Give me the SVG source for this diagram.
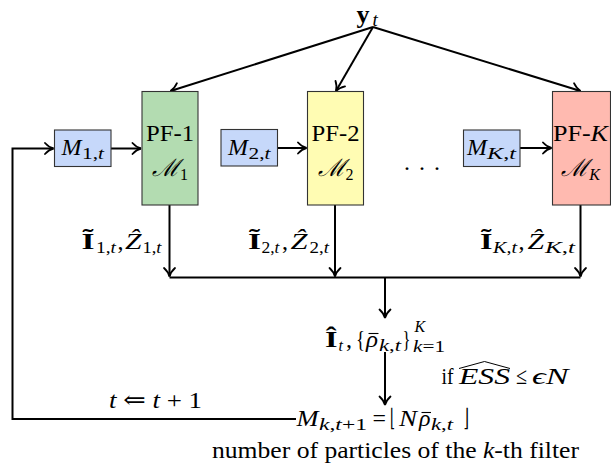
<svg xmlns="http://www.w3.org/2000/svg" width="611" height="467" viewBox="0 0 611 467">
<style>
.t{font-family:"Liberation Serif","DejaVu Serif",serif;font-size:24px;fill:#000}
.i{font-style:italic}
.b{font-weight:bold}
.s{font-size:16px}
.box{stroke:#333;stroke-width:1.1}
.c{stroke:#000;stroke-width:2;fill:none}
.bar{stroke:#000;stroke-width:1.1;fill:none}
</style>
<defs>
<marker id="ah" markerUnits="userSpaceOnUse" viewBox="-10 -7 12 14" refX="0" refY="0" markerWidth="12" markerHeight="14" orient="auto">
<path d="M-8.5,-5.5 C-5.5,-2.2 -2.5,-0.6 0,0 C-2.5,0.6 -5.5,2.2 -8.5,5.5" fill="none" stroke="#000" stroke-width="1.8" stroke-linecap="round"/>
</marker>
</defs>
<rect width="611" height="467" fill="#fff"/>

<g id="connectors">
<path class="c" d="M373,27 L170.5,91" marker-end="url(#ah)"/>
<path class="c" d="M373,27 L336,91" marker-end="url(#ah)"/>
<path class="c" d="M373,27 L580.5,91" marker-end="url(#ah)"/>
<path class="c" d="M111,148.5 H141" marker-end="url(#ah)"/>
<path class="c" d="M277.5,148 H306.5" marker-end="url(#ah)"/>
<path class="c" d="M520,148 H551.5" marker-end="url(#ah)"/>
<path class="c" d="M169.5,205 V276.5" marker-end="url(#ah)"/>
<path class="c" d="M335,205 V276.5" marker-end="url(#ah)"/>
<path class="c" d="M580.5,205 V276.5" marker-end="url(#ah)"/>
<path class="c" d="M169.5,277.5 H580.5"/>
<path class="c" d="M385,277.5 V318" marker-end="url(#ah)"/>
<path class="c" d="M385,352 V405" marker-end="url(#ah)"/>
<path class="c" d="M296,419 H12.5 V148.5 H53.5" marker-end="url(#ah)"/>
</g>

<g id="pf1">
<rect class="box" x="142" y="91.5" width="56" height="113.5" fill="#b3dcb1"/>
<text class="t" x="170" y="140.5" text-anchor="middle" textLength="48" lengthAdjust="spacingAndGlyphs">PF-1</text>
<text class="t" x="170" y="176" text-anchor="middle"><tspan class="i">ℳ</tspan><tspan class="s" dy="4">1</tspan></text>
</g>
<g id="pf2">
<rect class="box" x="307.5" y="91.5" width="56" height="113.5" fill="#fffcb3"/>
<text class="t" x="335.5" y="140.5" text-anchor="middle" textLength="48" lengthAdjust="spacingAndGlyphs">PF-2</text>
<text class="t" x="335.5" y="176" text-anchor="middle"><tspan class="i">ℳ</tspan><tspan class="s" dy="4">2</tspan></text>
</g>
<g id="pfK">
<rect class="box" x="552.5" y="91.5" width="58" height="113.5" fill="#ffbab0"/>
<text class="t" x="580.5" y="140.5" text-anchor="middle" textLength="55" lengthAdjust="spacingAndGlyphs">PF-<tspan class="i">K</tspan></text>
<text class="t" x="580.5" y="176" text-anchor="middle"><tspan class="i">ℳ</tspan><tspan class="s i" dy="4">K</tspan></text>
</g>

<g id="m1">
<rect class="box" x="54.5" y="130" width="56.5" height="36.5" fill="#c6d8fa"/>
<text class="t" y="155"><tspan class="i" x="61.5" textLength="20" lengthAdjust="spacingAndGlyphs">M</tspan><tspan class="s" x="82" y="159" textLength="22" lengthAdjust="spacingAndGlyphs">1,<tspan class="i">t</tspan></tspan></text>
</g>
<g id="m2">
<rect class="box" x="221" y="129.5" width="56.5" height="36.5" fill="#c6d8fa"/>
<text class="t" y="154.5"><tspan class="i" x="228" textLength="20" lengthAdjust="spacingAndGlyphs">M</tspan><tspan class="s" x="248.5" y="158.5" textLength="22" lengthAdjust="spacingAndGlyphs">2,<tspan class="i">t</tspan></tspan></text>
</g>
<g id="mK">
<rect class="box" x="463.5" y="130" width="56.5" height="36.5" fill="#c6d8fa"/>
<text class="t" y="155"><tspan class="i" x="467" textLength="20" lengthAdjust="spacingAndGlyphs">M</tspan><tspan class="s" x="487" y="159" textLength="29" lengthAdjust="spacingAndGlyphs"><tspan class="i">K</tspan>,<tspan class="i">t</tspan></tspan></text>
</g>

<g id="dots">
<text class="t" x="404" y="170" letter-spacing="9">...</text>
</g>

<g id="yt">
<text class="t" y="22.5"><tspan class="b" x="356.5" font-size="26">y</tspan><tspan class="i" x="372.5" y="26" font-size="19">t</tspan></text>
</g>

<g id="labels">
<text class="t" y="249"><tspan class="b" x="81.5" textLength="13" lengthAdjust="spacingAndGlyphs">Ĩ</tspan><tspan class="s" x="96" y="253" textLength="20" lengthAdjust="spacingAndGlyphs">1,<tspan class="i">t</tspan></tspan><tspan x="117.5" y="249">,</tspan><tspan class="i" x="125" textLength="16.5" lengthAdjust="spacingAndGlyphs">Ẑ</tspan><tspan class="s" x="142.5" y="253" textLength="19" lengthAdjust="spacingAndGlyphs">1,<tspan class="i">t</tspan></tspan></text>
<text class="t" y="249"><tspan class="b" x="248" textLength="13" lengthAdjust="spacingAndGlyphs">Ĩ</tspan><tspan class="s" x="261.5" y="253" textLength="18" lengthAdjust="spacingAndGlyphs">2,<tspan class="i">t</tspan></tspan><tspan x="282" y="249">,</tspan><tspan class="i" x="290.5" textLength="17" lengthAdjust="spacingAndGlyphs">Ẑ</tspan><tspan class="s" x="309.5" y="253" textLength="19.5" lengthAdjust="spacingAndGlyphs">2,<tspan class="i">t</tspan></tspan></text>
<text class="t" y="249"><tspan class="b" x="480" textLength="12.5" lengthAdjust="spacingAndGlyphs">Ĩ</tspan><tspan class="s" x="493" y="253" textLength="24" lengthAdjust="spacingAndGlyphs"><tspan class="i">K</tspan>,<tspan class="i">t</tspan></tspan><tspan x="518.5" y="249">,</tspan><tspan class="i" x="527.5" textLength="16.5" lengthAdjust="spacingAndGlyphs">Ẑ</tspan><tspan class="s" x="545" y="253" textLength="30" lengthAdjust="spacingAndGlyphs"><tspan class="i">K</tspan>,<tspan class="i">t</tspan></tspan></text>
</g>

<g id="combine">
<text class="t" y="347"><tspan class="b" x="325" textLength="12.5" lengthAdjust="spacingAndGlyphs">Î</tspan><tspan class="s i" x="338.5" y="351">t</tspan><tspan x="346" y="347">,</tspan><tspan x="356" textLength="9" lengthAdjust="spacingAndGlyphs">{</tspan><tspan class="i" x="366" textLength="12" lengthAdjust="spacingAndGlyphs">ρ</tspan><tspan class="s" x="379" y="351" textLength="22" lengthAdjust="spacingAndGlyphs"><tspan class="i">k</tspan>,<tspan class="i">t</tspan></tspan><tspan x="402.5" y="347" textLength="8" lengthAdjust="spacingAndGlyphs">}</tspan><tspan class="s i" x="414.5" y="332">K</tspan><tspan class="s" x="413" y="351.5" textLength="32" lengthAdjust="spacingAndGlyphs"><tspan class="i">k</tspan>=1</tspan></text>
<path class="bar" d="M368.5,333.5 H378.5"/>
</g>

<g id="cond">
<text class="t" y="383.5"><tspan x="441.5" textLength="12" lengthAdjust="spacingAndGlyphs">if</tspan><tspan class="i" x="459" textLength="51" lengthAdjust="spacingAndGlyphs">ESS</tspan><tspan x="516" textLength="11" lengthAdjust="spacingAndGlyphs">≤</tspan><tspan class="i" x="532" textLength="36.5" lengthAdjust="spacingAndGlyphs">ϵN</tspan></text>
<path d="M459,368.5 L484.5,361.5 L510,368.5" fill="none" stroke="#000" stroke-width="1"/>
</g>

<g id="step">
<text class="t" x="109" y="408" textLength="93" lengthAdjust="spacingAndGlyphs"><tspan class="i">t</tspan> ⇐ <tspan class="i">t</tspan> + 1</text>
</g>

<g id="update">
<text class="t" y="426"><tspan class="i" x="296.5" textLength="22" lengthAdjust="spacingAndGlyphs">M</tspan><tspan class="s" x="319" y="430" textLength="48" lengthAdjust="spacingAndGlyphs"><tspan class="i">k</tspan>,<tspan class="i">t</tspan>+1</tspan><tspan x="372.5" y="426" textLength="13.5" lengthAdjust="spacingAndGlyphs">=</tspan><tspan x="390" textLength="5" lengthAdjust="spacingAndGlyphs">⌊</tspan><tspan class="i" x="399" textLength="18" lengthAdjust="spacingAndGlyphs">N</tspan><tspan class="i" x="419" textLength="11.5" lengthAdjust="spacingAndGlyphs">ρ</tspan><tspan class="s" x="431" y="430" textLength="22" lengthAdjust="spacingAndGlyphs"><tspan class="i">k</tspan>,<tspan class="i">t</tspan></tspan><tspan x="463.5" y="426" textLength="5.5" lengthAdjust="spacingAndGlyphs">⌋</tspan></text>
<path class="bar" d="M421.5,412.5 H431"/>
</g>

<g id="caption">
<text class="t" x="212" y="458" textLength="367" lengthAdjust="spacingAndGlyphs">number of particles of the <tspan class="i">k</tspan>-th filter</text>
</g>
</svg>
